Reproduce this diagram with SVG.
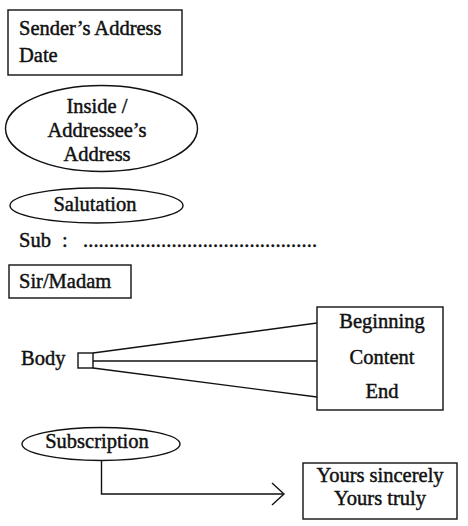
<svg xmlns="http://www.w3.org/2000/svg" width="468" height="526" viewBox="0 0 468 526">
<style>
.s{fill:none;stroke:#111;stroke-width:1.4}
text{font-family:"Liberation Serif","Times New Roman",serif;font-size:20.5px;fill:#111;stroke:#111;stroke-width:0.45}
.c{text-anchor:middle}
</style>
<defs>
<marker id="open" viewBox="0 0 14 24" refX="13" refY="12" markerWidth="14" markerHeight="24" markerUnits="userSpaceOnUse" orient="auto">
<path d="M1,1 L13,12 L1,23" fill="none" stroke="#111" stroke-width="1.4"/>
</marker>
</defs>
<rect width="468" height="526" fill="#fff"/>
<g id="sender">
<rect class="s" x="8" y="10" width="174" height="65"/>
<text x="19" y="35">Sender’s Address</text>
<text x="19" y="62">Date</text>
</g>
<g id="inside">
<ellipse class="s" cx="101.5" cy="128.5" rx="96" ry="43"/>
<text class="c" x="97" y="113">Inside /</text>
<text class="c" x="97" y="137">Addressee’s</text>
<text class="c" x="97" y="161">Address</text>
</g>
<g id="salutation">
<ellipse class="s" cx="96.5" cy="205.5" rx="86.5" ry="17.5"/>
<text class="c" x="95" y="211">Salutation</text>
</g>
<g id="sub">
<text x="19" y="247">Sub</text>
<text x="62" y="247">:</text>
<text x="83" y="247" textLength="234" lengthAdjust="spacing">.............................................</text>
</g>
<g id="sirmadam">
<rect class="s" x="9" y="265" width="122" height="33"/>
<text x="19" y="288">Sir/Madam</text>
</g>
<g id="body">
<text x="21" y="365">Body</text>
<rect class="s" x="78" y="353" width="15" height="15"/>
</g>
<g id="parts">
<rect class="s" x="317" y="307" width="126" height="103"/>
<text class="c" x="382" y="328">Beginning</text>
<text class="c" x="382" y="364">Content</text>
<text class="c" x="382" y="398">End</text>
</g>
<g id="subscription">
<ellipse class="s" cx="101" cy="444" rx="79" ry="16.5"/>
<text class="c" x="97" y="448">Subscription</text>
</g>
<g id="closing">
<rect class="s" x="303" y="463" width="154" height="56"/>
<text class="c" x="380" y="482">Yours sincerely</text>
<text class="c" x="380" y="505">Yours truly</text>
</g>
<g id="connectors">
<path class="s" d="M93,353 L317,323"/>
<path class="s" d="M93,361 L317,361"/>
<path class="s" d="M93,368 L317,397"/>
<path class="s" d="M101.5,461 L101.5,494 L284,494" marker-end="url(#open)"/>
</g>
</svg>
